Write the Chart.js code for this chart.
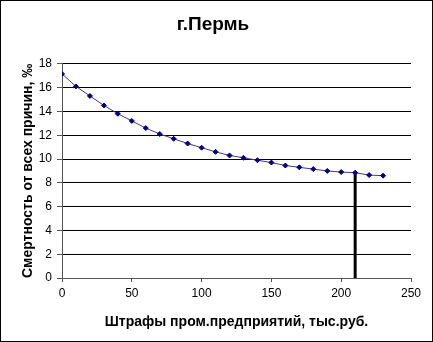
<!DOCTYPE html>
<html lang="ru">
<head>
    <meta charset="UTF-8">
    <title>г.Пермь</title>
    <script src="https://cdn.jsdelivr.net/npm/chart.js@4.4.1/dist/chart.umd.min.js"></script>
    <style>
        html, body { margin: 0; padding: 0; background: #fff; }
        #wrap { width: 433px; height: 342px; box-sizing: border-box; border: 1px solid #000; }
    </style>
</head>
<body>
    <div id="wrap"><canvas id="chart" width="431" height="340"></canvas></div>
    <script>
        // штрафы, тыс.руб.
        const fines = [0, 10, 20, 30, 40, 50, 60, 70, 80, 90, 100, 110, 120,
                       130, 140, 150, 160, 170, 180, 190, 200, 210, 220, 230];
        // смертность, промилле
        const mortality = [17.15, 16.1, 15.3, 14.5, 13.8, 13.2, 12.6, 12.1, 11.7, 11.3, 10.95, 10.6, 10.3,
                           10.1, 9.9, 9.7, 9.45, 9.3, 9.15, 9.0, 8.9, 8.85, 8.65, 8.6];
        // вертикальная отметка
        const markerX = [210, 210];
        const markerY = [0, 8.8];

        const font = 'Arial, "Liberation Sans", sans-serif';

        new Chart(document.getElementById('chart'), {
            type: 'scatter',
            data: {
                datasets: [{
                    data: fines.map((x, i) => ({x: x, y: mortality[i]})),
                    showLine: true,
                    borderColor: '#3a3a9a',
                    borderWidth: 1,
                    pointBackgroundColor: '#000080',
                    pointBorderColor: '#000080',
                    pointRadius: 2.5,
                    pointStyle: 'rectRot'
                }, {
                    data: markerX.map((x, i) => ({x: x, y: markerY[i]})),
                    showLine: true,
                    borderColor: '#000',
                    borderWidth: 3,
                    pointRadius: 0
                }]
            },
            options: {
                responsive: false,
                animation: false,
                layout: { padding: { left: 14, right: 21, top: 0, bottom: 10 } },
                plugins: {
                    legend: { display: false },
                    tooltip: { enabled: false },
                    title: {
                        display: true,
                        text: 'г.Пермь',
                        color: '#000',
                        font: { family: font, size: 19, weight: 'bold' },
                        padding: { top: 12, bottom: 28 }
                    }
                },
                scales: {
                    x: {
                        type: 'linear',
                        min: 0, max: 250,
                        ticks: { stepSize: 50, color: '#000', font: { family: font, size: 12 }, padding: 4 },
                        grid: { drawOnChartArea: false, drawTicks: true, tickLength: 4, color: '#555' },
                        border: { color: '#555', width: 1 },
                        title: {
                            display: true,
                            text: 'Штрафы пром.предприятий, тыс.руб.',
                            color: '#000',
                            font: { family: font, size: 14, weight: 'bold' },
                            padding: { top: 10, bottom: 0 }
                        },
                        afterFit: s => { s.height = 53; }
                    },
                    y: {
                        min: 0, max: 18,
                        ticks: { stepSize: 2, color: '#000', font: { family: font, size: 12 }, padding: 5 },
                        grid: { color: '#000', tickLength: 5, tickColor: '#555' },
                        border: { color: '#555', width: 1 },
                        title: {
                            display: true,
                            text: 'Смертность от всех причин, ‰',
                            color: '#000',
                            font: { family: font, size: 14, weight: 'bold' },
                            padding: { top: 5, bottom: 0 }
                        },
                        afterFit: s => { s.width = 47; }
                    }
                }
            }
        });
    </script>
</body>
</html>
